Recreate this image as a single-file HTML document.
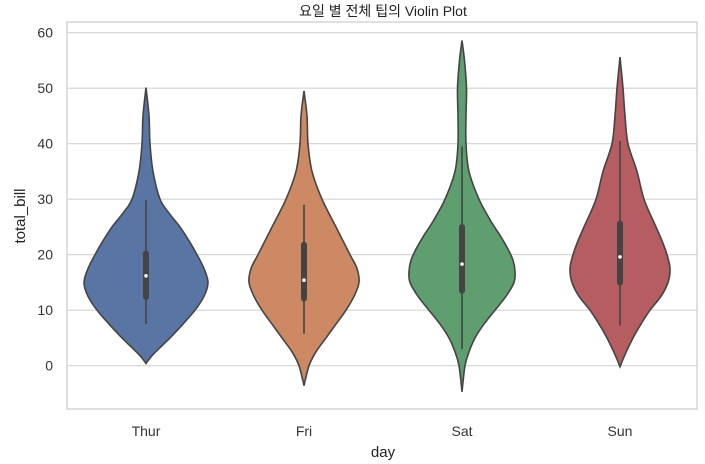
<!DOCTYPE html>
<html><head><meta charset="utf-8"><style>
body{margin:0;background:#fff}
svg{display:block;font-family:"Liberation Sans","Noto Sans CJK KR",sans-serif}
</style></head><body>
<svg id="c" width="705" height="464">
<text x="383" y="16" text-anchor="middle" font-size="14" fill="#222">요일 별 전체 팁의 Violin Plot</text>
<g id="grid"></g><g id="viol"></g>
<rect x="67" y="22" width="630" height="387" fill="none" stroke="#cccccc" stroke-width="1.2"/>
<text x="383" y="457" text-anchor="middle" font-size="15" fill="#222">day</text>
<text transform="translate(25,216) rotate(-90)" text-anchor="middle" font-size="15" fill="#222">total_bill</text>
</svg>
<script>
const categories=["Thur","Fri","Sat","Sun"];
const colors=["#5875a4","#cc8963","#5f9e6e","#b55d60"];
const yTicks=[0,10,20,30,40,50,60];
// density profiles: [value, relative half-width]
const thurDensity=[[0.4,0],[2,7],[5,24],[7.5,37],[10,49],[12.5,58],[15,62],[17.5,58],[20,51],[22.5,43],[25,34],[27.5,23],[30,14],[35,7],[40,4],[45,3],[50.1,0]];
const friDensity=[[-3.6,0],[0,5],[2.5,12],[5,22],[7.5,32],[10,42],[12.5,50],[15,55],[17.5,53],[20,46],[22.5,39],[25,32],[30,18],[35,8],[40,4],[45,3],[49.5,0]];
const satDensity=[[-4.7,0],[0,3],[2.5,7],[5,13],[7.5,22],[10,33],[12.5,44],[15,52],[17,53],[19,51],[21,46],[23.5,38],[26,29],[30,17],[35,7],[40,4],[45,4],[50,4.5],[55,2.5],[58.6,0]];
const sunDensity=[[-0.2,0],[2,5],[5,13],[7.5,21],[10,30],[12.5,41],[15,48],[17.5,50],[20,47],[22.5,42],[25,36],[30,24],[35,17],[40,8],[45,5],[50,3],[55.6,0]];
const densities=[thurDensity,friDensity,satDensity,sunDensity];
// box stats: whiskerLow, q1, median, q3, whiskerHigh
const boxStats=[[7.5,12.4,16.2,20.2,29.8],[5.75,12.1,15.4,21.8,29],[3.0,13.5,18.3,25,39.5],[7.25,15,19.6,25.6,40.5]];
const NS="http://www.w3.org/2000/svg";
const y=v=>365.7-5.55*v;
const x=i=>146+i*158;
const scaleW=1;
function mk(t,a,p){const e=document.createElementNS(NS,t);for(const k in a)e.setAttribute(k,a[k]);p.appendChild(e);return e;}
const grid=document.getElementById('grid'),viol=document.getElementById('viol'),svg=document.getElementById('c');
yTicks.forEach(v=>{
 const l=mk('line',{x1:67,x2:697,y1:y(v),y2:y(v),stroke:'#d3d3d3','stroke-width':1.2},grid);
 
 
 const t=mk('text',{x:53,y:y(v)+5,'text-anchor':'end','font-size':14,fill:'#333'},svg);
 t.textContent=v;
 
 
});
function smooth(pts){
 let d='M'+pts[0][0]+','+pts[0][1];
 for(let i=0;i<pts.length-1;i++){
  const p0=pts[Math.max(0,i-1)],p1=pts[i],p2=pts[i+1],p3=pts[Math.min(pts.length-1,i+2)];
  const c1=[p1[0]+(p2[0]-p0[0])/6,p1[1]+(p2[1]-p0[1])/6],c2=[p2[0]-(p3[0]-p1[0])/6,p2[1]-(p3[1]-p1[1])/6];
  d+=' C'+c1+' '+c2+' '+p2;
 }
 return d;
}
categories.forEach((c,i)=>{
 const cx=x(i),dn=densities[i];
 const right=dn.map(p=>[cx+p[1]*scaleW,y(p[0])]);
 const left=dn.slice().reverse().map(p=>[cx-p[1]*scaleW,y(p[0])]);
 const d=smooth(right)+' '+smooth(left).replace('M','L')+'Z';
 const v=mk('path',{d:d,fill:colors[i],stroke:'#444','stroke-width':1.6},viol);
 
 
 const b=boxStats[i];
 const w=mk('line',{x1:cx,x2:cx,y1:y(b[0]),y2:y(b[4]),stroke:'#444','stroke-width':1.6},viol);
 
 
 const bx=mk('line',{x1:cx,x2:cx,y1:y(b[1]),y2:y(b[3]),stroke:'#444','stroke-width':6,'stroke-linecap':'round'},viol);
 
 
 const m=mk('circle',{cx:cx,cy:y(b[2]),r:1.8,fill:'#fff'},viol);
 
 
 const t=mk('text',{x:cx,y:436,'text-anchor':'middle','font-size':14,fill:'#333'},svg);
 t.textContent=c;
 
 
});
</script>
</body></html>
